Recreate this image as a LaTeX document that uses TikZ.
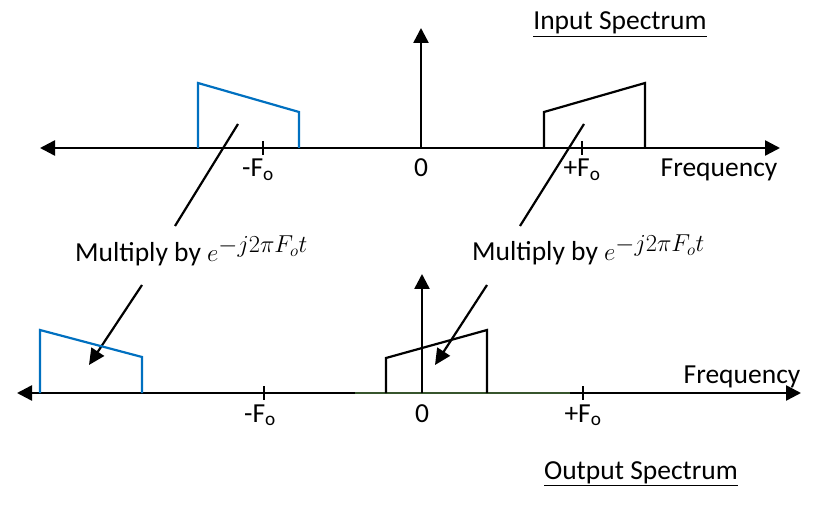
\documentclass[tikz,border=0pt]{standalone}
\usepackage{fontspec}
\setmainfont{Carlito}
\usetikzlibrary{arrows.meta}
\definecolor{specblue}{RGB}{0,112,192}
\definecolor{axgreen}{RGB}{55,85,45}
\newcommand{\mulexp}{$e^{\scalebox{1.18}{$\scriptstyle -j2\pi F_o t$}}$}
\begin{document}
\begin{tikzpicture}[x=1pt,y=-1pt,
  axis/.style={line width=2.5pt,-{Triangle[length=15pt,width=15pt]}},
  dblaxis/.style={line width=2.5pt,{Triangle[length=15pt,width=15pt]}-{Triangle[length=15pt,width=15pt]}},
  bandblue/.style={draw=specblue,line width=2.2pt},
  bandblack/.style={draw=black,line width=2.2pt},
  pointer/.style={line width=2.2pt},
  pointerarrow/.style={line width=2.2pt,-{Triangle[length=16pt,width=15pt]}},
  tick/.style={line width=2.2pt},
  lbl/.style={font=\fontsize{27.5}{33}\selectfont,inner sep=0pt,anchor=base}]
\useasboundingbox (0,0) rectangle (816,510);

% ---------- Input spectrum ----------
\coordinate (tL) at (40,148);
\coordinate (tR) at (780,148);
\coordinate (t0) at (421,148);
\coordinate (t0top) at (421,28);
\draw[dblaxis] (tL) -- (tR);
\draw[axis] (t0) -- (t0top);
\coordinate (tm1) at (263,141); \coordinate (tm2) at (263,155);
\coordinate (tp1) at (582,141); \coordinate (tp2) at (582,155);
\draw[tick] (tm1) -- (tm2);
\draw[tick] (tp1) -- (tp2);
\draw[bandblue] (198,148) -- (198,83) -- (299,112) -- (299,148);
\draw[bandblack] (544,148) -- (544,112) -- (645,83) -- (645,148);

\node[lbl] (tlm) at (258,177) {-F\textsubscript{o}};
\node[lbl] (tl0) at (421,177) {0};
\node[lbl] (tlp) at (582,177) {+F\textsubscript{o}};
\node[lbl] (tfreq) at (719,177) {Frequency};
\node[lbl] (intitle) at (620,30) {\underline{Input Spectrum}};

% ---------- Multiply labels ----------
\node[lbl,anchor=base west] (mulL) at (75,262) {Multiply by \mulexp};
\node[lbl,anchor=base west] (mulR) at (472,261) {Multiply by \mulexp};

\coordinate (pl1) at (238,124); \coordinate (pl2) at (175,226);
\coordinate (pr1) at (584,124); \coordinate (pr2) at (520,226);
\draw[pointer] (pl1) -- (pl2);
\draw[pointer] (pr1) -- (pr2);
\coordinate (ql1) at (142,285); \coordinate (ql2) at (89,365);
\coordinate (qr1) at (487,285); \coordinate (qr2) at (435,365);
\draw[pointerarrow] (ql1) -- (ql2);
\draw[pointerarrow] (qr1) -- (qr2);

% ---------- Output spectrum ----------
\coordinate (bL) at (17,393);
\coordinate (bR) at (801,393);
\coordinate (b0) at (422,393);
\coordinate (b0top) at (422,274);
\draw[dblaxis] (bL) -- (bR);
\coordinate (g1) at (355,393); \coordinate (g2) at (570,393);
\draw[axgreen,line width=1.6pt] (g1) -- (g2);
\draw[axis] (b0) -- (b0top);
\coordinate (bm1) at (264,386); \coordinate (bm2) at (264,400);
\coordinate (bp1) at (583,386); \coordinate (bp2) at (583,400);
\draw[tick] (bm1) -- (bm2);
\draw[tick] (bp1) -- (bp2);
\draw[bandblue] (40,393) -- (40,330) -- (142,357) -- (142,393);
\draw[bandblack] (386,393) -- (386,358) -- (487,330) -- (487,393);

\node[lbl] (blm) at (260,422) {-F\textsubscript{o}};
\node[lbl] (bl0) at (422,422) {0};
\node[lbl] (blp) at (583,422) {+F\textsubscript{o}};
\node[lbl] (bfreq) at (742,383) {Frequency};
\node[lbl] (outtitle) at (641,479) {\underline{Output Spectrum}};
\end{tikzpicture}
\end{document}
